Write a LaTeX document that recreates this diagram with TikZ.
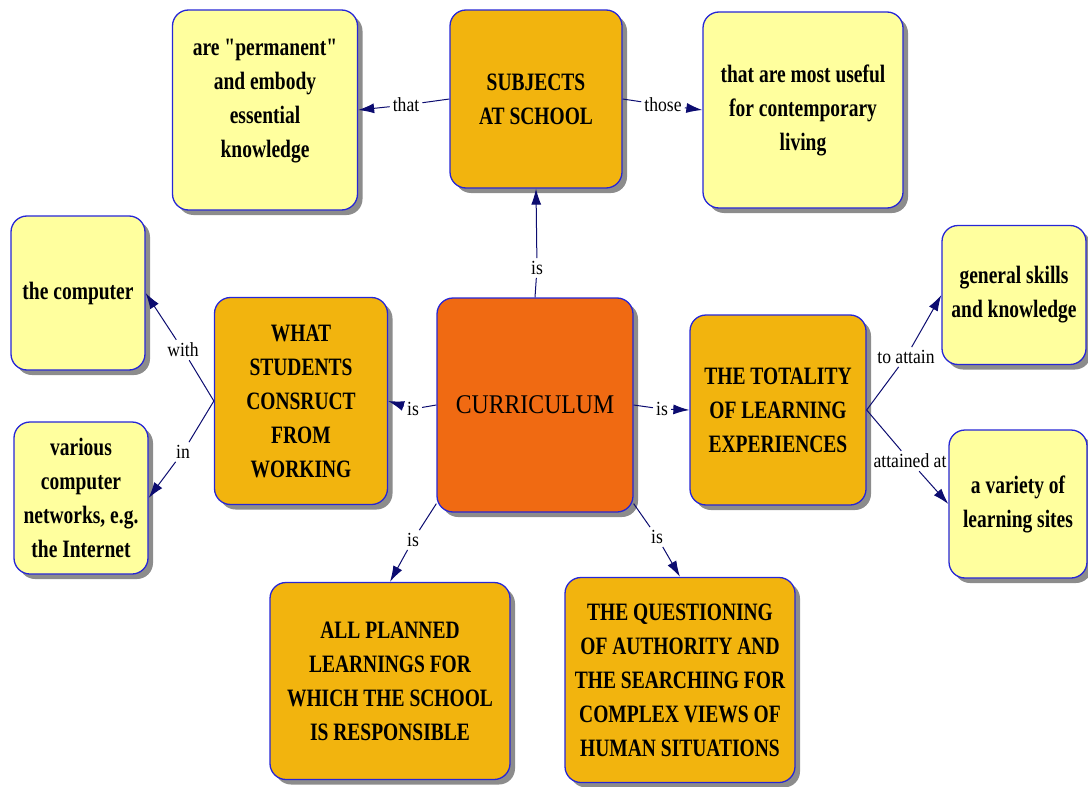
\documentclass[tikz,border=0pt]{standalone}
\usepackage{fontspec}
\setmainfont{Liberation Serif}
\newfontfamily\boxfont{Liberation Serif}[FakeStretch=0.78]
\newfontfamily\linkfont{Liberation Serif}[FakeStretch=0.88]
\usetikzlibrary{shadows,arrows.meta}
\definecolor{gold}{HTML}{F2B40E}
\definecolor{curr}{HTML}{F06A12}
\definecolor{pale}{HTML}{FFFF9E}
\definecolor{edge}{HTML}{2626D6}
\definecolor{navy}{HTML}{0C0C70}
\definecolor{shade}{HTML}{8C8C8C}
\tikzset{
  concept/.style={draw=edge, line width=1.3pt, rounded corners=16pt, align=center,
    inner sep=0pt, text=black,
    font=\boxfont\bfseries\fontsize{25}{34}\selectfont,
    drop shadow={shadow xshift=5pt, shadow yshift=-5pt, fill=shade, opacity=1}},
  major/.style={concept, fill=gold},
  minor/.style={concept, fill=pale},
  linklabel/.style={font=\linkfont\fontsize{20}{22}\selectfont, inner sep=3pt, text=black},
  link/.style={draw=navy, line width=1pt},
  arr/.style={link, -{Latex[length=16pt,width=10pt]}},
}
\begin{document}
\begin{tikzpicture}[x=1pt,y=-1pt]
\useasboundingbox (0,0) rectangle (1088,787);
% concepts
\node[major, minimum width=172pt, minimum height=178pt] (subj) at (536,99) {SUBJECTS\\AT SCHOOL};
\node[minor, minimum width=185pt, minimum height=200pt] (perm) at (265,110) {are "permanent"\\and embody\\essential\\knowledge\\[-10pt]\mbox{}};
\node[minor, minimum width=200pt, minimum height=196pt] (useful) at (803,110) {that are most useful\\for contemporary\\living};
\node[minor, minimum width=134pt, minimum height=154pt] (comp) at (78,293) {the computer};
\node[minor, minimum width=134pt, minimum height=152pt] (net) at (81,498) {various\\computer\\networks, e.g.\\the Internet};
\node[major, minimum width=173pt, minimum height=207pt] (wsc) at (301,401) {WHAT\\STUDENTS\\CONSRUCT\\FROM\\WORKING};
\node[concept, fill=curr, minimum width=196pt, minimum height=214pt,
  font=\linkfont\fontsize{27}{30}\selectfont] (cur) at (535,405) {CURRICULUM};
\node[major, minimum width=176pt, minimum height=190pt] (tot) at (778,410) {THE TOTALITY\\OF LEARNING\\EXPERIENCES};
\node[minor, minimum width=144pt, minimum height=139pt] (gen) at (1014,295) {general skills\\and knowledge};
\node[minor, minimum width=138pt, minimum height=148pt] (var) at (1018,504) {a variety of\\learning sites};
\node[major, minimum width=240pt, minimum height=197pt] (pl) at (390,681) {ALL PLANNED\\LEARNINGS FOR\\WHICH THE SCHOOL\\IS RESPONSIBLE};
\node[major, minimum width=230pt, minimum height=205pt] (q) at (680,680) {THE QUESTIONING\\OF AUTHORITY AND\\THE SEARCHING FOR\\COMPLEX VIEWS OF\\HUMAN SITUATIONS};
% link labels
\node[linklabel] (l1) at (537,268) {is};
\node[linklabel] (l2) at (406,105) {that};
\node[linklabel] (l3) at (663,105) {those};
\node[linklabel] (l4) at (183,350) {with};
\node[linklabel] (l5) at (183,452) {in};
\node[linklabel] (l6) at (413,409) {is};
\node[linklabel] (l7) at (662,409) {is};
\node[linklabel] (l8) at (906,357) {to attain};
\node[linklabel] (l9) at (910,461) {attained at};
\node[linklabel] (l10) at (413,540) {is};
\node[linklabel] (l11) at (657,537) {is};
% connectors
\draw[link] (cur.north) -- (l1);  \draw[arr] (l1) -- (subj.south);
\draw[link] (subj.west) -- (l2);  \draw[arr] (l2) -- (perm.east);
\draw[link] (subj.east) -- (l3);  \draw[arr] (l3) -- (useful.west);
\draw[link] (wsc.west) -- (l4);   \draw[arr] (l4) -- (comp.east);
\draw[link] (wsc.west) -- (l5);   \draw[arr] (l5) -- (net.east);
\draw[link] (cur.west) -- (l6);   \draw[arr] (l6) -- (wsc.east);
\draw[link] (cur.east) -- (l7);   \draw[arr] (l7) -- (tot.west);
\draw[link] (tot.east) -- (l8);   \draw[arr] (l8) -- (gen.west);
\draw[link] (tot.east) -- (l9);   \draw[arr] (l9) -- (var.west);
\draw[link] (cur.225) -- (l10);   \draw[arr] (l10) -- (pl.north);
\draw[link] (cur.315) -- (l11);   \draw[arr] (l11) -- (q.north);
\end{tikzpicture}
\end{document}
